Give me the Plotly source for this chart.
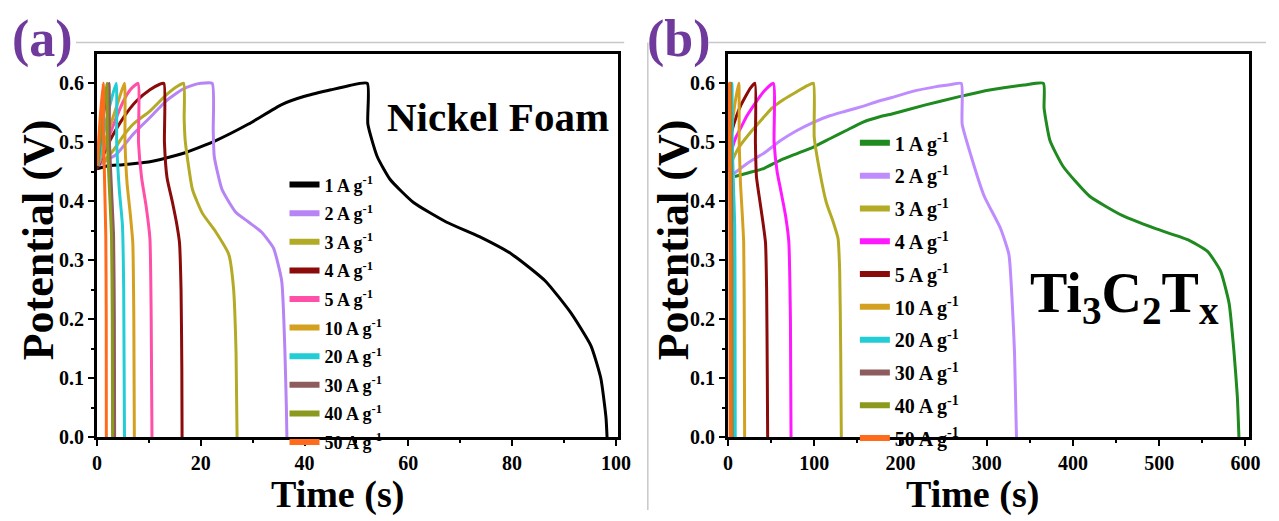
import plotly.graph_objects as go

W, H = 1279, 521
FONT = "Liberation Serif"

labels = ["1 A g<sup>-1</sup>", "2 A g<sup>-1</sup>", "3 A g<sup>-1</sup>", "4 A g<sup>-1</sup>",
          "5 A g<sup>-1</sup>", "10 A g<sup>-1</sup>", "20 A g<sup>-1</sup>", "30 A g<sup>-1</sup>",
          "40 A g<sup>-1</sup>", "50 A g<sup>-1</sup>"]

colors_nf = ["#000000", "#b784f5", "#b3ab25", "#8b0a0a", "#ff4fa6",
             "#d4a020", "#22cdd6", "#8e5c5c", "#8b9a1e", "#ff6b1a"]
colors_tc = ["#1f8a1f", "#bf8cff", "#b3ab25", "#ff19ff", "#8b0a0a",
             "#d4a020", "#22cdd6", "#8e5c5c", "#8b9a1e", "#ff6b1a"]

# ---- (a) Nickel Foam : time (s) / potential (V) ----
nf_t_1 = [0.0, 2.0, 5.0, 10.2, 16.5, 22.9, 29.2, 35.6, 40.0, 45.1, 48.5, 52.1, 52.2, 54.0, 56.5, 61.0, 67.3, 73.7, 80.0, 86.4, 91.4, 95.2, 97.1, 98.1, 98.3]
nf_v_1 = [0.455, 0.460, 0.462, 0.467, 0.481, 0.503, 0.531, 0.564, 0.578, 0.589, 0.596, 0.600, 0.531, 0.476, 0.437, 0.398, 0.365, 0.340, 0.310, 0.265, 0.210, 0.155, 0.100, 0.033, 0.0]
nf_t_2 = [0.5, 2.0, 3.8, 7.0, 10.2, 13.3, 16.5, 18.5, 20.0, 22.2, 22.4, 22.6, 24.1, 26.7, 29.2, 31.7, 34.0, 35.6, 36.2, 36.5, 36.6]
nf_v_2 = [0.462, 0.470, 0.480, 0.514, 0.542, 0.570, 0.590, 0.597, 0.600, 0.600, 0.520, 0.476, 0.420, 0.382, 0.365, 0.348, 0.321, 0.265, 0.150, 0.050, 0.0]
nf_t_3 = [1.0, 3.2, 5.0, 7.0, 10.2, 13.3, 15.5, 16.7, 16.8, 17.0, 18.4, 20.3, 22.9, 25.4, 26.3, 26.8, 27.0]
nf_v_3 = [0.465, 0.487, 0.510, 0.531, 0.553, 0.580, 0.595, 0.600, 0.540, 0.503, 0.420, 0.380, 0.348, 0.310, 0.254, 0.144, 0.0]
nf_t_4 = [0.0, 1.3, 2.5, 5.1, 7.6, 10.2, 12.0, 12.9, 13.0, 13.5, 14.5, 15.4, 15.9, 16.2, 16.35, 16.4]
nf_v_4 = [0.455, 0.480, 0.503, 0.542, 0.570, 0.589, 0.598, 0.600, 0.500, 0.440, 0.400, 0.360, 0.330, 0.250, 0.120, 0.0]
nf_t_5 = [0.5, 1.5, 3.2, 5.1, 6.5, 7.9, 8.0, 8.6, 9.5, 10.2, 10.45, 10.6]
nf_v_5 = [0.465, 0.490, 0.530, 0.570, 0.590, 0.600, 0.500, 0.440, 0.390, 0.337, 0.200, 0.0]
nf_t_10 = [0.2, 1.5, 3.0, 4.3, 5.3, 5.4, 5.8, 6.4, 6.9, 7.1, 7.2]
nf_v_10 = [0.460, 0.500, 0.540, 0.575, 0.600, 0.500, 0.430, 0.380, 0.330, 0.200, 0.0]
nf_t_20 = [0.2, 1.2, 2.4, 3.7, 3.8, 4.3, 4.9, 5.15, 5.3]
nf_v_20 = [0.460, 0.510, 0.560, 0.600, 0.500, 0.420, 0.360, 0.250, 0.0]
nf_t_30 = [0.1, 1.0, 2.3, 2.4, 2.8, 3.2, 3.35, 3.4]
nf_v_30 = [0.460, 0.530, 0.600, 0.500, 0.420, 0.340, 0.200, 0.0]
nf_t_40 = [0.1, 1.0, 1.9, 2.0, 2.4, 2.8, 2.95, 3.0]
nf_v_40 = [0.460, 0.540, 0.600, 0.500, 0.420, 0.340, 0.200, 0.0]
nf_t_50 = [0.0, 0.6, 1.2, 1.3, 1.5, 1.7, 1.78, 1.8]
nf_v_50 = [0.460, 0.540, 0.600, 0.500, 0.420, 0.340, 0.200, 0.0]

# ---- (b) Ti3C2Tx : time (s) / potential (V) ----
tc_t_1 = [8, 23, 42, 61, 80, 99, 118, 137, 156, 175, 190, 228, 267, 305, 343, 365.7, 366.5, 373.3, 388.6, 419, 457, 495, 533, 556, 571, 581, 586.7, 590.5, 592.4]
tc_v_1 = [0.442, 0.448, 0.456, 0.470, 0.481, 0.492, 0.506, 0.520, 0.534, 0.543, 0.548, 0.563, 0.577, 0.589, 0.597, 0.600, 0.558, 0.503, 0.459, 0.409, 0.376, 0.354, 0.335, 0.315, 0.282, 0.227, 0.144, 0.070, 0.0]
tc_t_2 = [5, 23, 42, 61, 80, 99, 118, 137, 156, 175, 190, 213, 240, 259, 270.5, 271.5, 282, 297, 316, 325.7, 329.6, 332.2, 334.5]
tc_v_2 = [0.445, 0.465, 0.482, 0.503, 0.520, 0.534, 0.545, 0.553, 0.561, 0.570, 0.576, 0.586, 0.594, 0.598, 0.600, 0.531, 0.476, 0.409, 0.354, 0.310, 0.227, 0.144, 0.0]
tc_t_3 = [2, 12, 25, 40, 51, 65, 80, 92, 99, 100, 106.7, 114, 122, 127.6, 129.5, 130.7, 131.4]
tc_v_3 = [0.460, 0.490, 0.515, 0.540, 0.558, 0.573, 0.586, 0.596, 0.600, 0.509, 0.448, 0.398, 0.365, 0.337, 0.282, 0.144, 0.0]
tc_t_4 = [1, 5, 9, 15, 22, 30.5, 42, 52.6, 53.5, 57, 61, 66.7, 70.5, 72.4, 73.1]
tc_v_4 = [0.460, 0.490, 0.508, 0.525, 0.545, 0.564, 0.587, 0.600, 0.500, 0.450, 0.420, 0.376, 0.332, 0.200, 0.0]
tc_t_5 = [1, 4, 10, 15, 20, 26, 31.3, 31.8, 33, 36, 40, 43.5, 44.8, 45.6, 46.0]
tc_v_5 = [0.470, 0.515, 0.545, 0.563, 0.577, 0.592, 0.600, 0.500, 0.442, 0.410, 0.370, 0.330, 0.250, 0.100, 0.0]
tc_t_10 = [0.5, 4, 8, 12.5, 13.0, 14.5, 16.5, 18.2, 18.9, 19.3]
tc_v_10 = [0.460, 0.520, 0.565, 0.600, 0.500, 0.430, 0.380, 0.330, 0.200, 0.0]
tc_t_20 = [0.2, 2, 4.6, 5.0, 6.5, 7.8, 8.2, 8.4]
tc_v_20 = [0.450, 0.520, 0.600, 0.500, 0.420, 0.360, 0.250, 0.0]
tc_t_30 = [0.1, 1.5, 3.0, 3.3, 4.2, 4.8, 5.0]
tc_v_30 = [0.450, 0.530, 0.600, 0.500, 0.400, 0.300, 0.0]
tc_t_40 = [0.1, 1.2, 2.5, 2.8, 3.4, 3.9, 4.1]
tc_v_40 = [0.450, 0.530, 0.600, 0.500, 0.400, 0.300, 0.0]
tc_t_50 = [0.0, 0.8, 1.5, 1.7, 2.1, 2.4, 2.5]
tc_v_50 = [0.450, 0.530, 0.600, 0.500, 0.400, 0.300, 0.0]

nf_series = [(nf_t_1, nf_v_1), (nf_t_2, nf_v_2), (nf_t_3, nf_v_3), (nf_t_4, nf_v_4), (nf_t_5, nf_v_5),
             (nf_t_10, nf_v_10), (nf_t_20, nf_v_20), (nf_t_30, nf_v_30), (nf_t_40, nf_v_40), (nf_t_50, nf_v_50)]
tc_series = [(tc_t_1, tc_v_1), (tc_t_2, tc_v_2), (tc_t_3, tc_v_3), (tc_t_4, tc_v_4), (tc_t_5, tc_v_5),
             (tc_t_10, tc_v_10), (tc_t_20, tc_v_20), (tc_t_30, tc_v_30), (tc_t_40, tc_v_40), (tc_t_50, tc_v_50)]

fig = go.Figure()

for (t, v), c in zip(nf_series, colors_nf):
    fig.add_trace(go.Scatter(x=t, y=v, mode="lines",
                             line=dict(color=c, width=3, shape="spline", smoothing=0.5),
                             xaxis="x", yaxis="y", showlegend=False, hoverinfo="skip"))
for (t, v), c in zip(tc_series, colors_tc):
    fig.add_trace(go.Scatter(x=t, y=v, mode="lines",
                             line=dict(color=c, width=3, shape="spline", smoothing=0.5),
                             xaxis="x2", yaxis="y2", showlegend=False, hoverinfo="skip"))

# legend swatches (thicker than plotted lines, as in the original)
for i, (lab, c) in enumerate(zip(labels, colors_nf)):
    fig.add_trace(go.Scatter(x=[None], y=[None], mode="lines", line=dict(color=c, width=6),
                             name=lab, legend="legend", legendgroup="a%d" % i,
                             xaxis="x", yaxis="y"))
for i, (lab, c) in enumerate(zip(labels, colors_tc)):
    fig.add_trace(go.Scatter(x=[None], y=[None], mode="lines", line=dict(color=c, width=6),
                             name=lab, legend="legend2", legendgroup="b%d" % i,
                             xaxis="x2", yaxis="y2"))

tickfont = dict(family=FONT, size=20, color="black", weight="bold")
common = dict(showline=True, linewidth=3, linecolor="black", mirror=True,
              ticks="outside", ticklen=6, tickwidth=2, tickcolor="black",
              showgrid=False, zeroline=False, tickfont=tickfont)

ydom = [1 - 446.7 / H, 1 - 55 / H]
fig.update_layout(
    width=W, height=H,
    margin=dict(l=0, r=0, t=0, b=0),
    paper_bgcolor="white", plot_bgcolor="white",
    xaxis=dict(domain=[93.3 / W, 621.7 / W], range=[0, 100.4], dtick=20, tick0=0,
               minor=dict(ticks="outside", dtick=10, ticklen=3, tickwidth=1.5, tickcolor="black"),
               anchor="y", **common),
    yaxis=dict(domain=ydom, range=[0, 0.65], tickvals=[0, 0.1, 0.2, 0.3, 0.4, 0.5, 0.6],
               tickformat=".1f",
               minor=dict(ticks="outside", tickvals=[0.05, 0.15, 0.25, 0.35, 0.45, 0.55],
                          ticklen=3, tickwidth=1.5, tickcolor="black"),
               anchor="x", **common),
    xaxis2=dict(domain=[733.3 / W, 1261.7 / W], range=[0, 604], dtick=100, tick0=0,
                minor=dict(ticks="outside", dtick=50, ticklen=3, tickwidth=1.5, tickcolor="black"),
                anchor="y2", **common),
    yaxis2=dict(domain=ydom, range=[0, 0.65], tickvals=[0, 0.1, 0.2, 0.3, 0.4, 0.5, 0.6],
                tickformat=".1f",
                minor=dict(ticks="outside", tickvals=[0.05, 0.15, 0.25, 0.35, 0.45, 0.55],
                           ticklen=3, tickwidth=1.5, tickcolor="black"),
                anchor="x2", **common),
    legend=dict(x=283.5 / W, xanchor="left", y=1 - 170 / H, yanchor="top",
                bgcolor="rgba(0,0,0,0)", borderwidth=0, tracegroupgap=2.2, itemwidth=30,
                font=dict(family=FONT, size=18, color="black", weight="bold")),
    legend2=dict(x=862 / W, xanchor="left", y=1 - 126 / H, yanchor="top",
                 bgcolor="rgba(0,0,0,0)", borderwidth=0, tracegroupgap=3.8, itemwidth=30,
                 font=dict(family=FONT, size=20, color="black", weight="bold")),
)

ann_font = lambda s, col="black": dict(family=FONT, size=s, color=col, weight="bold")
annotations = [
    dict(text="Nickel Foam", x=500 / W, y=1 - 120 / H, font=ann_font(41)),
    dict(text="Ti<sub>3</sub>C<sub>2</sub>T<sub>x</sub>", x=1135 / W, y=1 - 303 / H, font=ann_font(56)),
    dict(text="(a)", x=38 / W, y=1 - 40 / H, font=ann_font(52, "#6f3a9c")),
    dict(text="(b)", x=684 / W, y=1 - 40 / H, font=ann_font(52, "#6f3a9c")),
    dict(text="Time (s)", x=337 / W, y=1 - 505 / H, font=ann_font(38)),
    dict(text="Time (s)", x=981 / W, y=1 - 505 / H, font=ann_font(38)),
    dict(text="Potential (V)", x=34 / W, y=1 - 245 / H, textangle=-90, font=ann_font(44)),
    dict(text="Potential (V)", x=678 / W, y=1 - 245 / H, textangle=-90, font=ann_font(44)),
]
for a in annotations:
    a.update(xref="paper", yref="paper", showarrow=False, xanchor="center", yanchor="middle")
fig.update_layout(annotations=annotations)

grey = dict(color="#c8c8c8", width=1.5)
fig.update_layout(shapes=[
    dict(type="line", xref="paper", yref="paper", x0=72 / W, x1=628 / W, y0=1 - 43.3 / H, y1=1 - 43.3 / H, line=grey, layer="below"),
    dict(type="line", xref="paper", yref="paper", x0=714 / W, x1=1.0, y0=1 - 43.3 / H, y1=1 - 43.3 / H, line=grey, layer="below"),
    dict(type="line", xref="paper", yref="paper", x0=652 / W, x1=652 / W, y0=0, y1=1 - 43.3 / H, line=grey, layer="below"),
])

fig.write_html("out.html")
